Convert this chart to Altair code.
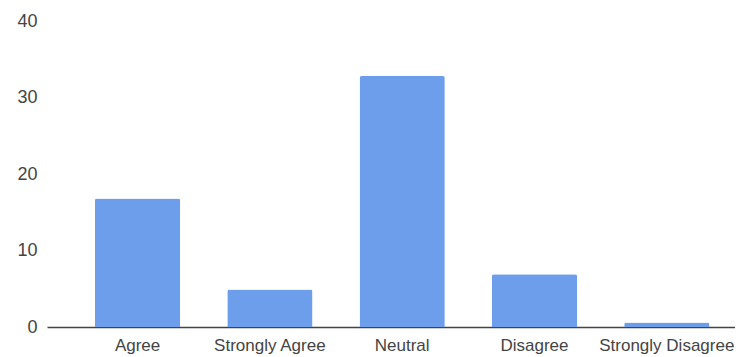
import altair as alt
import pandas as pd

categories = ["Agree", "Strongly Agree", "Neutral", "Disagree", "Strongly Disagree"]
counts = [16.8, 4.9, 32.8, 6.9, 0.6]
y_ticks = [0, 10, 20, 30, 40]

df = pd.DataFrame({"response": categories, "count": counts})

FONT = "Liberation Sans"

chart = (
    alt.Chart(df)
    .mark_bar(color="#6d9eeb", cornerRadiusTopLeft=2, cornerRadiusTopRight=2)
    .encode(
        x=alt.X(
            "response:N",
            sort=categories,
            title=None,
            scale=alt.Scale(paddingInner=0.356, paddingOuter=0.278, align=0.652),
            axis=alt.Axis(
                labelAngle=0,
                ticks=False,
                domainColor="#444444",
                domainWidth=1.5,
                labelFontSize=17,
                labelColor="#444444",
                labelFont=FONT,
                labelPadding=10,
            ),
        ),
        y=alt.Y(
            "count:Q",
            title=None,
            scale=alt.Scale(domain=[0, 40]),
            axis=alt.Axis(
                values=y_ticks,
                grid=False,
                domain=False,
                ticks=False,
                labelFontSize=18,
                labelColor="#444444",
                labelFont=FONT,
                labelPadding=10,
            ),
        ),
    )
    .properties(
        width=688,
        height=306,
        autosize=alt.AutoSizeParams(type="none"),
        padding={"left": 39, "top": 13, "right": 0, "bottom": 30},
    )
    .configure_view(stroke=None)
)

chart.save("out.html", embed_options={"renderer": "svg", "actions": False})
